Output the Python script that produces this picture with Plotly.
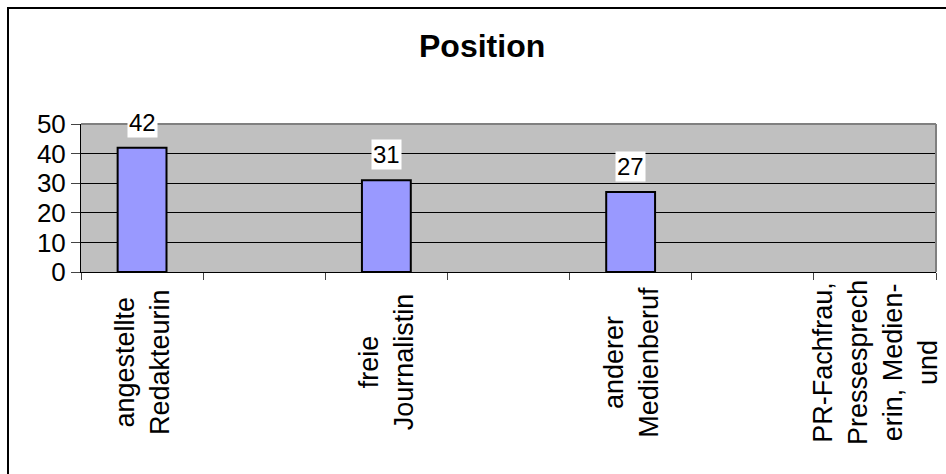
import plotly.graph_objects as go

# Data
categories = [
    "angestellte<br>Redakteurin",
    "",
    "freie<br>Journalistin",
    "",
    "anderer<br>Medienberuf",
    "",
    "PR-Fachfrau,<br>Pressesprech<br>erin, Medien-<br>und",
]
values = [42, None, 31, None, 27, None, None]
y_ticks = [0, 10, 20, 30, 40, 50]
title_text = "Position"

W, H = 946, 474
ML, MR, MT, MB = 81, 10, 124, 202
PW, PH = W - ML - MR, H - MT - MB

FONT = "Liberation Sans, Arial, sans-serif"
x = list(range(len(categories)))

fig = go.Figure()
fig.add_trace(go.Bar(
    x=x, y=values, width=0.4,
    marker=dict(color="#9999FF", line=dict(color="black", width=2)),
    hoverinfo="skip",
))

annotations = []
for xi, v in zip(x, values):
    if v is not None:
        annotations.append(dict(
            x=xi, y=v, xref="x", yref="y", text=str(v), showarrow=False,
            yanchor="bottom", yshift=10, bgcolor="white", borderpad=1,
            font=dict(family=FONT, size=24, color="black"),
        ))
for xi, lab in zip(x, categories):
    if lab:
        annotations.append(dict(
            x=xi, y=0, xref="x", yref="paper", text=lab, showarrow=False,
            textangle=-90, xanchor="center", yanchor="middle", yshift=-90,
            align="center",
            font=dict(family=FONT, size=27, color="black"),
        ))
annotations.append(dict(
    x=(482 - ML) / PW, y=((H - MB) - 46) / PH, xref="paper", yref="paper",
    text="<b>%s</b>" % title_text,
    showarrow=False, xanchor="center", yanchor="middle",
    font=dict(family=FONT, size=32, color="black"),
))

shapes = [
    # outer border of chart
    dict(type="rect", xref="paper", yref="paper",
         x0=(8 - ML) / PW, x1=(W + 20 - ML) / PW,
         y0=((H - MB) - (H + 20)) / PH, y1=((H - MB) - 8) / PH,
         line=dict(color="black", width=2), layer="above"),
    # plot area top and right border
    dict(type="line", xref="paper", yref="paper", x0=0, x1=1, y0=1, y1=1,
         line=dict(color="#808080", width=2), layer="above"),
    dict(type="line", xref="paper", yref="paper", x0=1, x1=1, y0=0, y1=1,
         line=dict(color="#808080", width=2), layer="above"),
]

fig.update_layout(
    width=W, height=H,
    margin=dict(l=ML, r=MR, t=MT, b=MB, pad=0),
    paper_bgcolor="white", plot_bgcolor="#C0C0C0",
    showlegend=False,
    annotations=annotations,
    shapes=shapes,
    font=dict(family=FONT, color="black"),
)
fig.update_xaxes(
    range=[-0.5, len(categories) - 0.5],
    tickmode="array", tickvals=[i - 0.5 for i in range(len(categories) + 1)],
    showticklabels=False, ticks="outside", ticklen=7, tickcolor="#444", tickwidth=1,
    showgrid=False, zeroline=False, showline=True, linecolor="black", linewidth=1,
    fixedrange=True,
)
fig.update_yaxes(
    range=[0, 50], tickmode="array", tickvals=y_ticks,
    ticks="outside", ticklen=9, tickcolor="#444", tickwidth=1,
    tickfont=dict(family=FONT, size=26, color="black"),
    showgrid=True, gridcolor="black", gridwidth=1, zeroline=False,
    showline=True, linecolor="black", linewidth=1, fixedrange=True,
)

fig.write_html(
    "out.html",
    config={"displayModeBar": False},
    post_script="document.body.style.margin='0';document.body.style.overflow='hidden';",
)
